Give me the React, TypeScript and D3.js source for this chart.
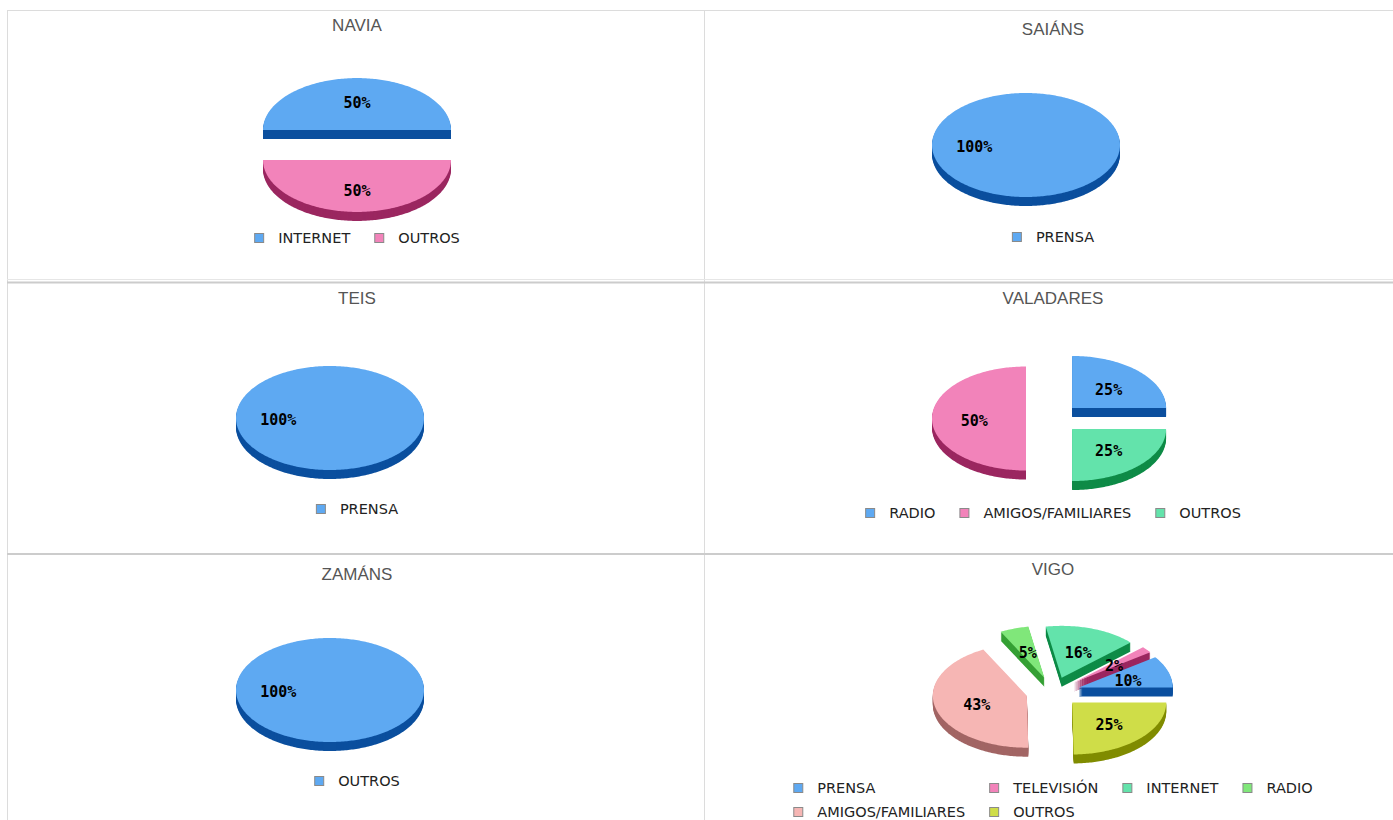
import React, { useEffect, useRef } from 'react';
import * as d3 from 'd3';

// ---- data ----
const panelTitles = ['NAVIA', 'SAIÁNS', 'TEIS', 'VALADARES', 'ZAMÁNS', 'VIGO'];

const naviaCategories = ['INTERNET', 'OUTROS'];
const naviaValues = [50, 50];

const saiansCategories = ['PRENSA'];
const saiansValues = [100];

const teisCategories = ['PRENSA'];
const teisValues = [100];

const valadaresCategories = ['RADIO', 'AMIGOS/FAMILIARES', 'OUTROS'];
const valadaresValues = [25, 50, 25];

const zamansCategories = ['OUTROS'];
const zamansValues = [100];

const vigoCategories = ['PRENSA', 'TELEVISIÓN', 'INTERNET', 'RADIO', 'AMIGOS/FAMILIARES', 'OUTROS'];
const vigoValues = [10, 2, 16, 5, 43, 25];

const faceColors = ['#5ea9f2', '#f283ba', '#63e3ab', '#80e77a', '#f6b6b4', '#cfdd48'];
const sideColors = ['#0b4f9e', '#9b2760', '#0e8b47', '#36a035', '#a26564', '#808c00'];

const panelCategories = [naviaCategories, saiansCategories, teisCategories, valadaresCategories, zamansCategories, vigoCategories];
const panelValues = [naviaValues, saiansValues, teisValues, valadaresValues, zamansValues, vigoValues];

// ---- layout ----
const W = 1393;
const H = 820;
const colX = [8, 705];
const colW = 697;
const rowY = [10, 282, 554];
const titleDy = [15, 19, 16, 16, 20, 15];
const pieDy = [135, 135, 136, 136.5, 136, 138];
const legendDy = [228, 227, 227, 231, 227, 234];
const RX = 94;
const RY = 52;
const DEPTH = 9;
const EXPLODE = 27;
const LABEL_R = 0.55;
const LEGEND_FONT = 14.5;

export default function App() {
  const ref = useRef<SVGSVGElement>(null);

  useEffect(() => {
    const svg = d3.select(ref.current);
    svg.selectAll('*').remove();

    // borders
    const g0 = svg.append('g');
    g0.append('line').attr('x1', 7.5).attr('x2', 7.5).attr('y1', 10).attr('y2', H).attr('stroke', '#dcdcdc');
    g0.append('line').attr('x1', 704.5).attr('x2', 704.5).attr('y1', 10).attr('y2', H).attr('stroke', '#dcdcdc');
    g0.append('line').attr('x1', 7).attr('x2', W).attr('y1', 10.5).attr('y2', 10.5).attr('stroke', '#dcdcdc');
    g0.append('line').attr('x1', 7).attr('x2', W).attr('y1', 279.5).attr('y2', 279.5).attr('stroke', '#e6e6e6');
    g0.append('line').attr('x1', 7).attr('x2', W).attr('y1', 282.5).attr('y2', 282.5).attr('stroke', '#cccccc').attr('stroke-width', 2);
    g0.append('line').attr('x1', 7).attr('x2', W).attr('y1', 554).attr('y2', 554).attr('stroke', '#cccccc').attr('stroke-width', 2);

    const measurer = svg.append('text')
      .attr('font-family', 'DejaVu Sans')
      .attr('font-size', LEGEND_FONT)
      .attr('visibility', 'hidden');
    const measure = (s: string) => {
      measurer.text(s);
      return (measurer.node() as SVGTextElement).getComputedTextLength();
    };

    const pieGen = d3.pie<number>().sort(null).value((d) => d)
      .startAngle(Math.PI / 2).endAngle(Math.PI / 2 - 2 * Math.PI);

    panelTitles.forEach((title, pi) => {
      const col = pi % 2;
      const row = Math.floor(pi / 2);
      const left = colX[col];
      const top = rowY[row];
      const cx = left + colW / 2 + (col === 1 ? -0.5 : 0.5);
      const cy = top + pieDy[pi];
      const cats = panelCategories[pi];
      const vals = panelValues[pi];
      const g = svg.append('g');

      // title
      g.append('text')
        .attr('x', cx)
        .attr('y', top + titleDy[pi] + 6)
        .attr('text-anchor', 'middle')
        .attr('font-family', 'Liberation Sans, Arial, sans-serif')
        .attr('font-size', 17)
        .attr('fill', '#555')
        .text(title);

      const arcs = pieGen(vals);
      const slices = arcs.map((a, i) => {
        const m = (a.startAngle + a.endAngle) / 2;
        const ox = cx + EXPLODE * Math.sin(m);
        const oy = cy - EXPLODE * (RY / RX) * Math.cos(m);
        const steps = Math.max(2, Math.ceil(Math.abs(a.endAngle - a.startAngle) / (Math.PI / 180)));
        const pts: [number, number][] = [];
        if (Math.abs(a.endAngle - a.startAngle) < 2 * Math.PI - 1e-6) pts.push([ox, oy]);
        for (let s = 0; s <= steps; s++) {
          const t = a.startAngle + (a.endAngle - a.startAngle) * (s / steps);
          pts.push([ox + RX * Math.sin(t), oy - RY * Math.cos(t)]);
        }
        const lx = ox + LABEL_R * RX * Math.sin(m);
        const ly = oy - LABEL_R * RY * Math.cos(m);
        return { i, pts, ox, oy, lx, ly, value: vals[i] };
      });

      const ordered = slices.slice().sort((a, b) => a.oy - b.oy);
      const line = d3.line();
      ordered.forEach((s) => {
        const sg = g.append('g');
        const d = line(s.pts) + 'Z';
        for (let k = DEPTH; k >= 1; k--) {
          sg.append('path')
            .attr('d', d)
            .attr('transform', `translate(0,${k})`)
            .attr('fill', sideColors[s.i % sideColors.length]);
        }
        sg.append('path')
          .attr('d', d)
          .attr('fill', faceColors[s.i % faceColors.length]);
      });

      slices.forEach((s) => {
        g.append('text')
          .attr('x', s.lx)
          .attr('y', s.ly + 7)
          .attr('text-anchor', 'middle')
          .attr('font-family', 'DejaVu Sans Mono, monospace')
          .attr('font-weight', 'bold')
          .attr('font-size', 15)
          .attr('fill', '#000')
          .text(`${s.value}%`);
      });

      // legend
      const textOff = 24;
      const itemW = cats.map((c) => textOff + measure(c));
      const gap = 24;
      const maxW = 560;
      let cols = cats.length;
      let colWidths: number[] = [];
      for (; cols >= 1; cols--) {
        colWidths = d3.range(cols).map((j) => d3.max(itemW.filter((_, i) => i % cols === j)) || 0);
        const total = d3.sum(colWidths) + gap * (cols - 1);
        if (total <= maxW || cols === 1) break;
      }
      const total = d3.sum(colWidths) + gap * (cols - 1);
      const lx0 = cx - total / 2;
      const colStart: number[] = [];
      let acc = lx0;
      colWidths.forEach((w) => { colStart.push(acc); acc += w + gap; });
      cats.forEach((c, i) => {
        const r = Math.floor(i / cols);
        const j = i % cols;
        const x = colStart[j];
        const yc = top + legendDy[pi] + r * 24;
        g.append('rect')
          .attr('x', x + 0.5)
          .attr('y', yc - 4.5)
          .attr('width', 9)
          .attr('height', 9)
          .attr('fill', faceColors[i % faceColors.length])
          .attr('stroke', '#8a8a8a')
          .attr('stroke-width', 1);
        g.append('text')
          .attr('x', x + textOff)
          .attr('y', yc + 5)
          .attr('font-family', 'DejaVu Sans, sans-serif')
          .attr('font-size', LEGEND_FONT)
          .attr('fill', '#222')
          .text(c);
      });
    });

    measurer.remove();
  }, []);

  return (
    <svg
      ref={ref}
      width={W}
      height={H}
      style={{ position: 'absolute', left: 0, top: 0, background: '#fff' }}
    />
  );
}
